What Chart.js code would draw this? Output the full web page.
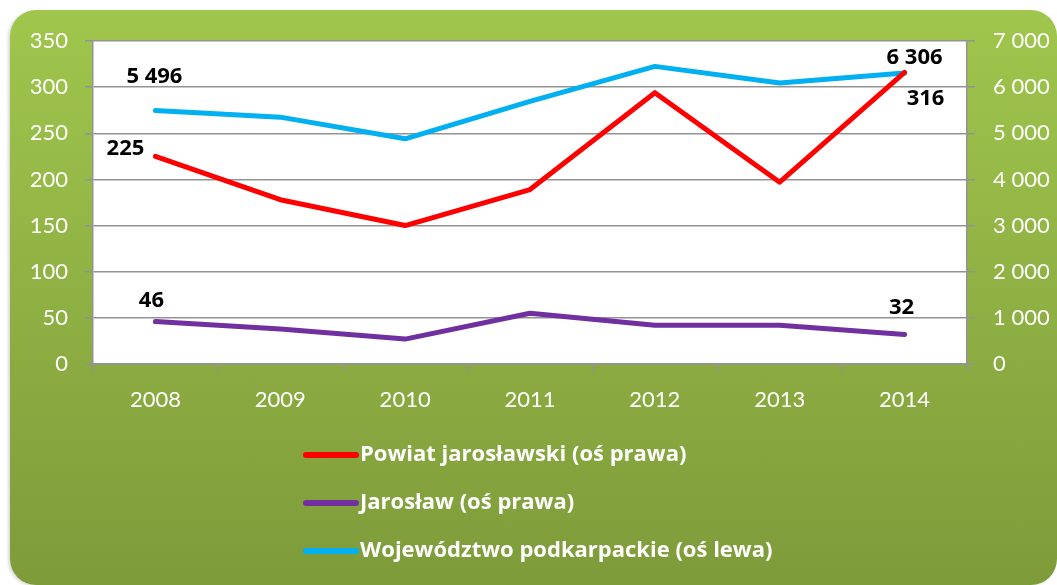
<!DOCTYPE html>
<html>
<head>
<meta charset="utf-8">
<script src="https://cdn.jsdelivr.net/npm/chart.js@4.4.0/dist/chart.umd.min.js"></script>
<style>
  html,body{margin:0;padding:0;background:#fff;}
  #wrap{position:relative;width:1057px;height:585px;overflow:hidden;}
  #box{position:absolute;left:10px;top:10px;width:1047px;height:575px;border-radius:26px;
       background:linear-gradient(#a0c64d,#7e9b3a);box-shadow:-2px 1px 3px rgba(0,0,0,0.15);}
  #c{position:absolute;left:0;top:0;}
</style>
</head>
<body>
<div id="wrap">
  <div id="box"></div>
  <canvas id="c" width="1057" height="585"></canvas>
</div>
<script>
const years=['2008','2009','2010','2011','2012','2013','2014'];
const powiat=[225,178,150,189,294,197,316];
const jaroslaw=[46,38,27,55,42,42,32];
const wojewodztwo=[5496,5350,4880,5690,6450,6090,6306];
const seriesNames=['Powiat jarosławski (oś prawa)','Jarosław (oś prawa)','Województwo podkarpackie (oś lewa)'];
const leftTicks=[0,50,100,150,200,250,300,350];
const rightTicks=[0,1000,2000,3000,4000,5000,6000,7000];

function fmt(v){return String(v).replace(/\B(?=(\d{3})+(?!\d))/g,' ');}

const FONT='Lato, "Open Sans", sans-serif';
const BOLD='"Open Sans", Lato, sans-serif';
const GRID='#939393';

// labels shown on first and last points: [dataset, index, dx, dy]
const labelSpots=[[2,0,-1,-34],[0,0,-30,-8],[1,0,-4,-21],[2,6,10,-15],[0,6,21,26],[1,6,-3,-27]];

const plotBg={
  id:'plotBg',
  beforeDraw(chart){
    const a=chart.chartArea,ctx=chart.ctx;
    ctx.save();ctx.fillStyle='#fff';
    ctx.fillRect(a.left,a.top,a.right-a.left,a.bottom-a.top);
    ctx.restore();
  }
};

const valueLabels={
  id:'valueLabels',
  afterDatasetsDraw(chart){
    const ctx=chart.ctx;
    ctx.save();
    ctx.font='bold 22px '+BOLD;
    ctx.fillStyle='#000';
    ctx.textAlign='center';ctx.textBaseline='middle';
    labelSpots.forEach(([d,i,dx,dy])=>{
      const p=chart.getDatasetMeta(d).data[i];
      ctx.fillText(fmt(chart.data.datasets[d].data[i]),p.x+dx,p.y+dy);
    });
    ctx.restore();
  }
};

const sideLegend={
  id:'sideLegend',
  afterDraw(chart){
    const ctx=chart.ctx;
    ctx.save();
    ctx.font='bold 22px '+BOLD;
    ctx.textBaseline='middle';ctx.textAlign='left';
    chart.data.datasets.forEach((ds,k)=>{
      const y=455+k*48;
      ctx.strokeStyle=ds.borderColor;ctx.lineWidth=6;ctx.lineCap='round';
      ctx.beginPath();ctx.moveTo(306,y);ctx.lineTo(356,y);ctx.stroke();
      ctx.fillStyle='#fff';
      ctx.fillText(ds.label,360,y);
    });
    ctx.restore();
  }
};

new Chart(document.getElementById('c'),{
  type:'line',
  data:{
    labels:years,
    datasets:[
      {label:seriesNames[0],data:powiat,borderColor:'#ff0000',yAxisID:'y'},
      {label:seriesNames[1],data:jaroslaw,borderColor:'#7030a0',yAxisID:'y'},
      {label:seriesNames[2],data:wojewodztwo,borderColor:'#00b0f0',yAxisID:'y1'}
    ]
  },
  options:{
    responsive:false,animation:false,
    layout:{padding:{top:41,left:0,right:0,bottom:0}},
    elements:{
      line:{borderWidth:5,tension:0,borderCapStyle:'round',borderJoinStyle:'round'},
      point:{radius:0,hoverRadius:0}
    },
    plugins:{legend:{display:false},tooltip:{enabled:false}},
    scales:{
      x:{
        offset:true,
        grid:{offset:true,drawOnChartArea:false,color:GRID,lineWidth:1.5,tickLength:8},
        border:{color:GRID,width:1.5},
        ticks:{color:'#fff',font:{family:FONT,size:22},padding:15},
        afterFit(s){s.height=221;}
      },
      y:{
        position:'left',min:0,max:350,
        afterBuildTicks(s){s.ticks=leftTicks.map(v=>({value:v}));},
        grid:{color:GRID,lineWidth:1.5,tickLength:8},
        border:{color:GRID,width:1.5},
        ticks:{color:'#fff',font:{family:FONT,size:22},padding:17},
        afterFit(s){s.width=93;}
      },
      y1:{
        position:'right',min:0,max:7000,
        afterBuildTicks(s){s.ticks=rightTicks.map(v=>({value:v}));},
        grid:{drawOnChartArea:false,color:GRID,lineWidth:1.5,tickLength:8},
        border:{color:GRID,width:1.5},
        ticks:{color:'#fff',font:{family:FONT,size:22},padding:18,callback:v=>fmt(v)},
        afterFit(s){s.width=90;}
      }
    }
  },
  plugins:[plotBg,valueLabels,sideLegend]
});
</script>
</body>
</html>
